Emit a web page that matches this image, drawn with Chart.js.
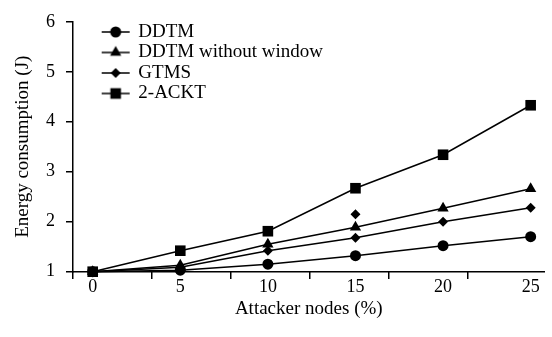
<!DOCTYPE html>
<html>
<head>
<meta charset="utf-8">
<script src="https://cdn.jsdelivr.net/npm/chart.js@4/dist/chart.umd.min.js"></script>
<style>
  html, body { margin: 0; padding: 0; background: #fff; }
  #wrap { width: 552px; height: 337px; }
</style>
</head>
<body>
<div id="wrap"><canvas id="chart" width="552" height="337"></canvas></div>
<script>
// attacker nodes (%)
const attackers = [0, 5, 10, 15, 20, 25];
// energy consumption (J)
const ddtm = [1.0, 1.03, 1.15, 1.32, 1.52, 1.70];
const ddtmNoWindow = [1.0, 1.13, 1.55, 1.89, 2.27, 2.66];
const gtms = [1.0, 1.09, 1.42, 1.68, 2.00, 2.28];
const ackt = [1.0, 1.42, 1.81, 2.67, 3.34, 4.33];
// stray GTMS marker drawn above the line at 15 %
const gtmsStrayX = [15];
const gtmsStrayY = [2.15];

const xTickLabels = [0, 5, 10, 15, 20, 25];
const yTickLabels = [1, 2, 3, 4, 5, 6];
const xTickMarks = [0, 1, 2, 3, 4, 5];

const FONT = 'Liberation Serif';

function pts(xs, ys) {
    return xs.map((x, i) => ({ x: x, y: ys[i] }));
}

function series(label, ys, style, radius) {
    return {
        label: label,
        data: pts(attackers, ys),
        borderColor: '#000',
        backgroundColor: '#000',
        borderWidth: 1.5,
        pointStyle: style,
        pointRadius: radius,
        pointBorderWidth: 0,
        clip: false
    };
}

// small line + marker picture for legend entries
function legendIcon(style, radius) {
    const c = document.createElement('canvas');
    c.width = 64;
    c.height = 16;
    const g = c.getContext('2d');
    g.strokeStyle = '#000';
    g.lineWidth = 1.5;
    g.beginPath();
    g.moveTo(32, 8);
    g.lineTo(60, 8);
    g.stroke();
    g.fillStyle = '#000';
    Chart.helpers.drawPoint(g, { pointStyle: style, radius: radius, rotation: 0, borderWidth: 0 }, 46, 8);
    return c;
}

const datasets = [
    series('DDTM', ddtm, 'circle', 5.5),
    series('DDTM without window', ddtmNoWindow, 'triangle', 6.5),
    series('GTMS', gtms, 'rectRot', 5),
    series('2-ACKT', ackt, 'rect', 7.5),
    {
        label: 'stray',
        data: pts(gtmsStrayX, gtmsStrayY),
        showLine: false,
        backgroundColor: '#000',
        borderColor: '#000',
        pointStyle: 'rectRot',
        pointRadius: 5,
        pointBorderWidth: 0
    }
];

const icons = datasets.map(d => legendIcon(d.pointStyle, d.pointRadius));

new Chart(document.getElementById('chart'), {
    type: 'line',
    data: { datasets: datasets },
    options: {
        responsive: false,
        animation: false,
        layout: { padding: { top: 14, left: 0, right: 0, bottom: 0 } },
        plugins: {
            tooltip: { enabled: false },
            legend: {
                position: 'chartArea',
                align: 'start',
                // empty title only pushes the entries down
                title: { display: true, text: '', padding: 0, font: { size: 21, lineHeight: 1 } },
                labels: {
                    color: '#000',
                    font: { family: FONT, size: 19 },
                    padding: 1.5,
                    usePointStyle: true,
                    pointStyleWidth: 54.3,
                    filter: item => item.datasetIndex < 4,
                    generateLabels: chart => Chart.defaults.plugins.legend.labels.generateLabels(chart)
                        .map(l => Object.assign(l, { pointStyle: icons[l.datasetIndex] }))
                }
            }
        },
        scales: {
            x: {
                type: 'linear',
                min: -1.124,
                max: 25.79,
                afterBuildTicks: s => { s.ticks = xTickLabels.map(v => ({ value: v })); },
                afterFit: s => { s.height = 65.3; },
                grid: { display: false, drawTicks: false },
                border: { color: '#000', width: 1.5 },
                ticks: { color: '#000', font: { family: FONT, size: 18 }, padding: 5, maxRotation: 0 },
                title: {
                    display: true,
                    text: 'Attacker nodes (%)',
                    color: '#000',
                    font: { family: FONT, size: 19 },
                    padding: { top: 0, bottom: 17 }
                }
            },
            xt: {
                type: 'linear',
                axis: 'x',
                position: { y: 1 },
                min: 0,
                max: 5.965,
                afterBuildTicks: s => { s.ticks = xTickMarks.map(v => ({ value: v })); },
                afterFit: s => { s.height = 0; },
                grid: { drawOnChartArea: false, drawTicks: true, tickLength: 7, color: '#000', lineWidth: 1.5 },
                border: { display: false },
                ticks: { display: false }
            },
            y: {
                min: 1,
                max: 6,
                afterBuildTicks: s => { s.ticks = yTickLabels.map(v => ({ value: v })); },
                afterFit: s => { s.width = 73; },
                grid: { drawOnChartArea: false, tickLength: 7, color: '#000', lineWidth: 1.5 },
                border: { color: '#000', width: 1.5 },
                ticks: { color: '#000', font: { family: FONT, size: 18 }, padding: 11 },
                title: {
                    display: true,
                    text: 'Energy consumption (J)',
                    color: '#000',
                    font: { family: FONT, size: 19 },
                    padding: { top: 12, bottom: 0 }
                }
            }
        }
    }
});
</script>
</body>
</html>
